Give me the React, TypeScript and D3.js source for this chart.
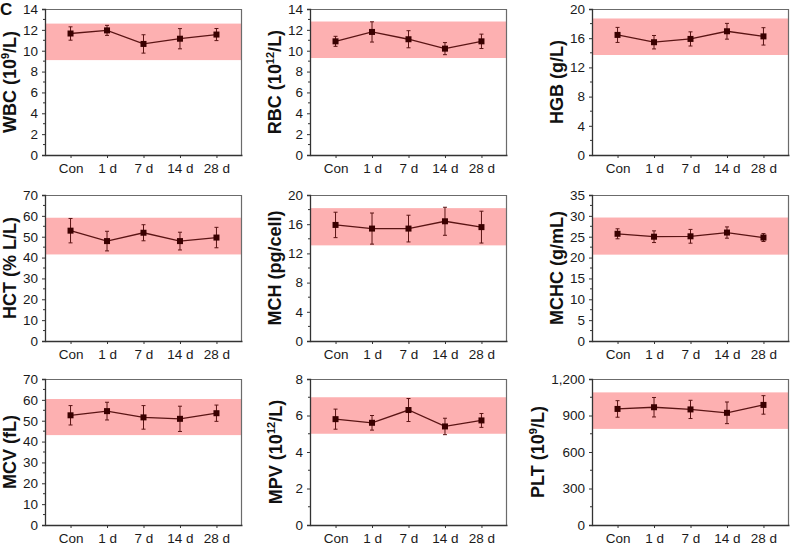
import React, { useRef, useEffect } from "react";
import * as d3 from "d3";

// x categories
const categories = ["Con", "1 d", "7 d", "14 d", "28 d"];

// means and SD
const wbcMean = [11.65, 11.95, 10.65, 11.15, 11.55];
const wbcSd = [0.64, 0.48, 0.88, 0.97, 0.58];
const rbcMean = [10.9, 11.8, 11.1, 10.2, 10.9];
const rbcSd = [0.48, 0.97, 0.82, 0.58, 0.69];
const hgbMean = [16.45, 15.45, 15.9, 16.95, 16.25];
const hgbSd = [1.03, 0.92, 0.97, 1.08, 1.19];
const hctMean = [52.9, 47.9, 51.9, 47.9, 49.6];
const hctSd = [5.85, 4.7, 3.85, 4.25, 4.9];
const mchMean = [15.9, 15.4, 15.4, 16.4, 15.6];
const mchSd = [1.74, 2.13, 1.83, 1.92, 2.18];
const mchcMean = [25.7, 25.0, 25.1, 26.0, 24.8];
const mchcSd = [1.2, 1.4, 1.65, 1.35, 0.95];
const mcvMean = [52.6, 54.6, 51.6, 50.9, 53.6];
const mcvSd = [4.65, 4.25, 5.65, 6.05, 3.9];
const mpvMean = [5.8, 5.6, 6.3, 5.4, 5.73];
const mpvSd = [0.55, 0.4, 0.63, 0.45, 0.38];
const pltMean = [954, 968, 950, 922, 987];
const pltSd = [68, 80, 75, 89, 76];

// normal reference ranges (shaded band)
const wbcRange = [9.1, 12.6];
const rbcRange = [9.3, 12.8];
const hgbRange = [13.7, 18.7];
const hctRange = [41.5, 59.1];
const mchRange = [13.1, 18.2];
const mchcRange = [20.7, 29.6];
const mcvRange = [43.1, 60.4];
const mpvRange = [5.0, 7.0];
const pltRange = [790, 1090];

// y axis: [max, step]
const wbcAxis = [14, 2];
const rbcAxis = [14, 2];
const hgbAxis = [20, 4];
const hctAxis = [70, 10];
const mchAxis = [20, 4];
const mchcAxis = [35, 5];
const mcvAxis = [70, 10];
const mpvAxis = [8, 2];
const pltAxis = [1200, 300];

// y titles: [before superscript, superscript, after]
const wbcTitle = ["WBC (10", "9", "/L)"];
const rbcTitle = ["RBC (10", "12", "/L)"];
const hgbTitle = ["HGB (g/L)", "", ""];
const hctTitle = ["HCT (% L/L)", "", ""];
const mchTitle = ["MCH (pg/cell)", "", ""];
const mchcTitle = ["MCHC (g/mL)", "", ""];
const mcvTitle = ["MCV (fL)", "", ""];
const mpvTitle = ["MPV (10", "12", "/L)"];
const pltTitle = ["PLT (10", "9", "/L)"];

const panels = [
  { mean: wbcMean, sd: wbcSd, range: wbcRange, axis: wbcAxis, title: wbcTitle },
  { mean: rbcMean, sd: rbcSd, range: rbcRange, axis: rbcAxis, title: rbcTitle },
  { mean: hgbMean, sd: hgbSd, range: hgbRange, axis: hgbAxis, title: hgbTitle },
  { mean: hctMean, sd: hctSd, range: hctRange, axis: hctAxis, title: hctTitle },
  { mean: mchMean, sd: mchSd, range: mchRange, axis: mchAxis, title: mchTitle },
  { mean: mchcMean, sd: mchcSd, range: mchcRange, axis: mchcAxis, title: mchcTitle },
  { mean: mcvMean, sd: mcvSd, range: mcvRange, axis: mcvAxis, title: mcvTitle },
  { mean: mpvMean, sd: mpvSd, range: mpvRange, axis: mpvAxis, title: mpvTitle },
  { mean: pltMean, sd: pltSd, range: pltRange, axis: pltAxis, title: pltTitle },
];

const W = 790;
const H = 545;
const colLeft = [45, 310, 592];
const rowTop = [9, 195, 379];
const pw = 197;
const ph = 146;
const FONT = "'Liberation Sans', Arial, Helvetica, sans-serif";
const BAND = "#fdb0b1";
const LINE = "#5a1414";
const MARK = "#3a0000";

export default function App() {
  const ref = useRef<SVGSVGElement | null>(null);

  useEffect(() => {
    if (!ref.current) return;
    const svg = d3.select(ref.current);
    svg.selectAll("*").remove();

    svg
      .append("text")
      .attr("x", 0)
      .attr("y", 15)
      .attr("font-family", FONT)
      .attr("font-weight", "700")
      .attr("font-size", "17px")
      .attr("fill", "#111")
      .text("C");

    panels.forEach((p, i) => {
      const left = colLeft[i % 3];
      const top = rowTop[Math.floor(i / 3)];
      const g = svg.append("g").attr("transform", `translate(${left}, ${top})`);

      const [yMax, step] = p.axis;
      const x = d3.scalePoint().domain(categories).range([0, pw]).padding(0.7);
      const y = d3.scaleLinear().domain([0, yMax]).range([ph, 0]);

      // reference band
      g.append("rect")
        .attr("x", 0)
        .attr("width", pw)
        .attr("y", y(p.range[1]))
        .attr("height", y(p.range[0]) - y(p.range[1]))
        .attr("fill", BAND);

      // frame (top / right)
      g.append("path")
        .attr("d", `M0,0.5H${pw - 0.5}V${ph}`)
        .attr("fill", "none")
        .attr("stroke", "#6b6b6b")
        .attr("stroke-width", 1.2);

      // minor ticks
      const minor = d3.range(step / 2, yMax, step);
      g.selectAll("line.minor")
        .data(minor)
        .enter()
        .append("line")
        .attr("class", "minor")
        .attr("x1", -2)
        .attr("x2", 0)
        .attr("y1", (d) => y(d))
        .attr("y2", (d) => y(d))
        .attr("stroke", "#333");

      // y axis
      const majors = d3.range(0, yMax + step / 2, step);
      const yAxis = g
        .append("g")
        .call(
          d3
            .axisLeft(y)
            .tickValues(majors)
            .tickSize(3)
            .tickPadding(4)
            .tickFormat((d) => d3.format(",")(d as number))
        );
      yAxis.select(".domain").attr("stroke", "#333").attr("stroke-width", 1.3);
      yAxis.selectAll(".tick line").attr("stroke", "#333");
      yAxis
        .selectAll("text")
        .attr("font-family", FONT)
        .attr("font-size", "13.5px")
        .attr("fill", "#1a1a1a");

      // x axis
      const xAxis = g
        .append("g")
        .attr("transform", `translate(0, ${ph})`)
        .call(d3.axisBottom(x).tickSize(3).tickPadding(5).tickSizeOuter(0));
      xAxis.select(".domain").attr("stroke", "#333").attr("stroke-width", 1.3);
      xAxis.selectAll(".tick line").attr("stroke", "#333");
      xAxis
        .selectAll("text")
        .attr("font-family", FONT)
        .attr("font-size", "13.5px")
        .attr("fill", "#1a1a1a");

      const pts = categories.map((c, j) => ({ c, m: p.mean[j], s: p.sd[j] }));

      // error bars
      const eb = g.selectAll("g.err").data(pts).enter().append("g").attr("class", "err");
      eb.append("line")
        .attr("x1", (d) => x(d.c)!)
        .attr("x2", (d) => x(d.c)!)
        .attr("y1", (d) => y(d.m + d.s))
        .attr("y2", (d) => y(d.m - d.s))
        .attr("stroke", LINE)
        .attr("stroke-width", 1);
      [1, -1].forEach((sgn) => {
        eb.append("line")
          .attr("x1", (d) => x(d.c)! - 2)
          .attr("x2", (d) => x(d.c)! + 2)
          .attr("y1", (d) => y(d.m + sgn * d.s))
          .attr("y2", (d) => y(d.m + sgn * d.s))
          .attr("stroke", LINE)
          .attr("stroke-width", 1);
      });

      // mean line
      const line = d3
        .line<{ c: string; m: number }>()
        .x((d) => x(d.c)!)
        .y((d) => y(d.m));
      g.append("path")
        .datum(pts)
        .attr("d", line)
        .attr("fill", "none")
        .attr("stroke", LINE)
        .attr("stroke-width", 1.3);

      // square markers
      g.selectAll("rect.mk")
        .data(pts)
        .enter()
        .append("rect")
        .attr("class", "mk")
        .attr("x", (d) => x(d.c)! - 3)
        .attr("y", (d) => y(d.m) - 3)
        .attr("width", 6)
        .attr("height", 6)
        .attr("fill", MARK);

      // y title, placed just left of the widest tick label
      const bb = (yAxis.node() as SVGGElement).getBBox();
      const tx = Math.min(-28, bb.x - 7);
      const t = g
        .append("text")
        .attr("transform", `translate(${tx}, ${ph / 2}) rotate(-90)`)
        .attr("text-anchor", "middle")
        .attr("font-family", FONT)
        .attr("font-weight", "700")
        .attr("font-size", "18px")
        .attr("fill", "#111");
      t.append("tspan").text(p.title[0]);
      if (p.title[1]) {
        t.append("tspan").attr("dy", -7).attr("font-size", "11px").text(p.title[1]);
        t.append("tspan").attr("dy", 7).text(p.title[2]);
      }
    });
  }, []);

  return (
    <svg
      ref={ref}
      width={W}
      height={H}
      viewBox={`0 0 ${W} ${H}`}
      style={{ position: "absolute", left: 0, top: 0, background: "#fff" }}
    />
  );
}
